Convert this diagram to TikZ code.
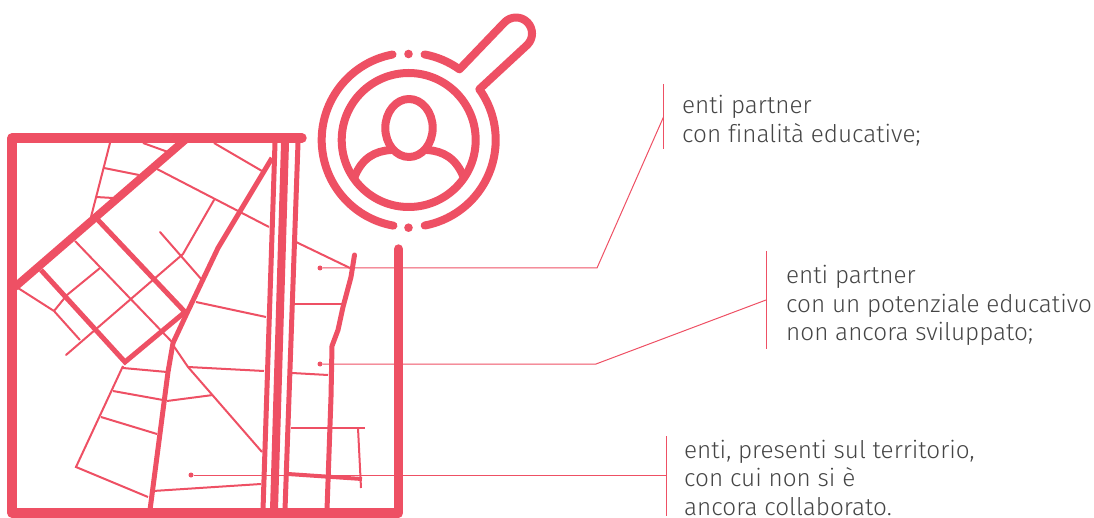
\documentclass[tikz,border=0pt]{standalone}
\usepackage{fontspec}
\setmainfont[Ligatures=NoCommon]{Fira Sans Light}
\definecolor{mapred}{HTML}{EE5064}
\definecolor{notegray}{HTML}{454545}
\tikzset{
  frame/.style={draw=mapred,line width=9.4pt,line join=round,line cap=round},
  bigroad/.style={draw=mapred,line width=8pt},
  midroad/.style={draw=mapred,line width=5pt},
  street/.style={draw=mapred,line width=2pt},
  leader/.style={draw=mapred,line width=1pt},
  ring/.style={draw=mapred,line width=8pt,line cap=round,line join=round},
  pin/.style={circle,fill=mapred,inner sep=0pt,minimum size=5pt},
  lensdot/.style={circle,fill=mapred,inner sep=0pt,minimum size=8.6pt},
  note/.style={anchor=north west,inner sep=0pt,align=left,text=notegray,
    font=\fontsize{24.3}{28.7}\selectfont},
}
\begin{document}
\begin{tikzpicture}[x=1pt,y=-1pt]
\useasboundingbox (0,0) rectangle (1094,518);
% Frame of the map
\draw[frame] (302,138) -- (12,138) -- (12,513) -- (398.5,513) -- (398.5,249);
% Big roads
\draw[bigroad] (15,287) -- (185,140);
\draw[bigroad] (285,143) -- (274,510);
\draw[midroad] (98,220) -- (185,312) -- (125,362) -- (41,270);
\draw[midroad] (275,143) -- (263,510);
\draw[midroad] (298,143) -- (285,510);
\draw[midroad] (272,158) -- (218,248) -- (187,313) -- (173,343) -- (168,372) -- (150,510);
\draw[midroad,line cap=round] (354.5,255) -- (351,277) -- (343,307) -- (338,330) -- (332,346) -- (331,397) -- (327,510);
\draw[draw=mapred,line width=4pt] (288,474) -- (362,479);
% Streets, upper left
\draw[street] (110,143) -- (91,217);
\draw[street] (104,168) -- (139,175);
\draw[street] (96,197) -- (113,198);
\draw[street] (143,143) -- (168,152);
\draw[street] (157,169) -- (269,227);
\draw[street] (296,242) -- (350,268);
\draw[street] (214,143) -- (262,171);
\draw[street] (75,241) -- (172,342);
\draw[street] (18,288) -- (54,311) -- (80,340);
\draw[street] (54,311) -- (67,295) -- (100,268);
\draw[street,line cap=round] (66,355) -- (183,254) -- (214,200);
\draw[street,line cap=round] (160,232) -- (202,280);
\draw[street] (196,302) -- (266,317);
% Streets, lower left
\draw[street] (123,366) -- (76,467) -- (148,497);
\draw[street] (123,368) -- (167,372);
\draw[street] (113,391) -- (163,400);
\draw[street] (101,417) -- (157,434);
\draw[street] (153,491) -- (261,484);
\draw[street] (167,401) -- (213,395);
\draw[street] (173,345) -- (188,367) -- (262,452);
\draw[street] (188,367) -- (264,371);
% Streets, right side
\draw[street] (295,304) -- (343,304);
\draw[street] (292,373) -- (328,375);
\draw[street] (291,428) -- (365,428);
\draw[street] (358,428) -- (361,488);
% Magnifying glass
\coordinate (lens) at (408.7,140);
\draw[ring] (lens) circle[radius=67pt];
\draw[ring] ([shift={(100.7:87pt)}]lens) arc[start angle=100.7,end angle=259.9,radius=87pt];
\draw[ring] ([shift={(79.5:87pt)}]lens) arc[start angle=79.5,end angle=54.3,radius=87pt]
  -- (504.7,22.2) arc[start angle=135,end angle=-45,radius=16pt]
  -- ([shift={(35.7:87pt)}]lens) arc[start angle=35.7,end angle=-79.4,radius=87pt];
\node[lensdot] (topdot) at (408.5,54) {};
\node[lensdot] (botdot) at (408.5,227.7) {};
% Person
\draw[ring] (409,128) ellipse[x radius=23.7pt,y radius=29pt];
\draw[ring] (354.5,177) .. controls (362,158) and (375,151) .. (391,150);
\draw[ring] (463.5,177) .. controls (456,158) and (443,151) .. (427,150);
% Leaders
\node[pin] (dotA) at (320,268) {};
\node[pin] (dotB) at (320,364) {};
\node[pin] (dotC) at (191,475) {};
\coordinate (kneeA) at (597,268);
\coordinate (kneeB) at (596,364);
\coordinate (tipA) at (663.5,117);
\coordinate (tipB) at (766,300);
\coordinate (tipC) at (666,475);
\draw[leader] (dotA) -- (kneeA) -- (tipA);
\draw[leader] (dotB) -- (kneeB) -- (tipB);
\draw[leader] (dotC) -- (tipC);
% Bars beside the notes
\coordinate (barAtop) at (663.5,84);
\coordinate (barAbot) at (663.5,149);
\coordinate (barBtop) at (766,251);
\coordinate (barBbot) at (766,349);
\coordinate (barCtop) at (666,436);
\coordinate (barCbot) at (666,516);
\draw[leader] (barAtop) -- (barAbot);
\draw[leader] (barBtop) -- (barBbot);
\draw[leader] (barCtop) -- (barCbot);
% Notes
\node[note] (noteA) at (682,95) {enti partner\\con finalità educative;};
\node[note] (noteB) at (786,265) {enti partner\\con un potenziale educativo\\non ancora sviluppato;};
\node[note] (noteC) at (684,439.5) {enti, presenti sul territorio,\\con cui non si è\\ancora collaborato.};
\end{tikzpicture}
\end{document}
